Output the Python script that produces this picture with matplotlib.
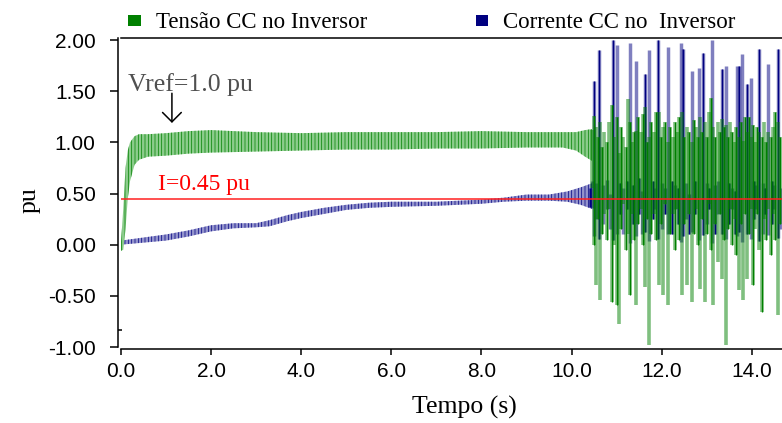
import numpy as np
import matplotlib
matplotlib.use('Agg')
import matplotlib.pyplot as plt
from matplotlib.patches import Patch

plt.rcParams['font.family'] = 'Liberation Serif'
plt.rcParams['hatch.linewidth'] = 0.5

# --- steady part: envelope of the fast oscillation ---
green_t = [0.0, 0.05, 0.1, 0.15, 0.2, 0.3, 0.4, 0.6, 1.0, 1.5, 2.0, 3.0, 4.0,
           5.0, 6.0, 7.0, 8.0, 9.0, 9.8, 10.1, 10.3, 10.45]
green_lo = [-0.06, -0.05, 0.15, 0.45, 0.62, 0.78, 0.83, 0.86, 0.87, 0.89, 0.90,
            0.91, 0.92, 0.93, 0.93, 0.94, 0.94, 0.95, 0.95, 0.92, 0.86, 0.82]
green_hi = [0.02, 0.35, 0.75, 0.92, 1.00, 1.06, 1.08, 1.08, 1.09, 1.11, 1.12,
            1.10, 1.09, 1.10, 1.10, 1.10, 1.11, 1.10, 1.10, 1.10, 1.12, 1.13]

blue_t = [0.0, 0.5, 1.0, 1.5, 2.0, 2.5, 3.0, 3.3, 3.7, 4.0, 4.5, 5.0, 5.5,
          6.0, 7.0, 8.0, 8.5, 9.0, 9.5, 9.9, 10.2, 10.45]
blue_lo = [0.00, 0.02, 0.04, 0.08, 0.13, 0.16, 0.17, 0.18, 0.23, 0.26, 0.30,
           0.34, 0.36, 0.37, 0.38, 0.40, 0.42, 0.43, 0.43, 0.42, 0.39, 0.35]
blue_hi = [0.04, 0.07, 0.10, 0.14, 0.19, 0.21, 0.21, 0.24, 0.29, 0.32, 0.36,
           0.39, 0.41, 0.42, 0.42, 0.44, 0.46, 0.49, 0.49, 0.52, 0.56, 0.60]

# --- unstable part after ~10.5 s: individual swings (time, min, max) ---
green_sw_t = [10.45, 10.50, 10.54, 10.59, 10.63, 10.68, 10.73, 10.78, 10.83, 10.89,
              10.95, 11.01, 11.05, 11.10, 11.15, 11.20, 11.25, 11.29, 11.34, 11.38,
              11.43, 11.48, 11.53, 11.58, 11.63, 11.67, 11.72, 11.77, 11.82, 11.87,
              11.94, 11.98, 12.03, 12.08, 12.14, 12.19, 12.24, 12.29, 12.34, 12.39,
              12.45, 12.50, 12.56, 12.61, 12.67, 12.72, 12.77, 12.81, 12.85, 12.90,
              12.96, 13.01, 13.05, 13.09, 13.14, 13.19, 13.24, 13.29, 13.34, 13.38,
              13.42, 13.47, 13.52, 13.57, 13.62, 13.66, 13.71, 13.75, 13.80, 13.85,
              13.89, 13.94, 13.98, 14.02, 14.07, 14.12, 14.17, 14.22, 14.27, 14.32,
              14.37, 14.42, 14.47, 14.52, 14.58, 14.63]
green_sw_lo = [0.55, 0.00, -0.39, 0.25, -0.54, 0.10, 0.30, 0.05, 0.35, -0.56,
               0.00, -0.59, -0.78, 0.15, 0.40, -0.05, 0.10, -0.49, 0.30, 0.05,
               -0.59, 0.20, 0.35, 0.00, -0.41, 0.25, -0.98, 0.10, 0.30, 0.05,
               -0.39, 0.20, -0.49, 0.40, -0.59, 0.10, 0.30, -0.05, 0.35, 0.05,
               -0.49, 0.20, -0.39, 0.30, -0.56, 0.10, 0.35, 0.00, -0.43, 0.25,
               -0.56, 0.10, 0.40, -0.05, -0.59, 0.20, -0.17, 0.30, -0.34, 0.05,
               -0.98, 0.15, 0.35, 0.00, 0.25, -0.10, -0.44, 0.20, -0.54, 0.30,
               -0.34, 0.10, 0.35, -0.39, 0.15, 0.30, -0.05, -0.66, 0.25, 0.05,
               0.35, -0.10, 0.30, 0.05, -0.69, 0.20]
green_sw_hi = [1.12, 1.26, 1.15, 1.05, 1.20, 0.95, 1.10, 1.00, 1.20, 1.37,
               1.05, 1.25, 0.90, 1.15, 1.05, 0.95, 1.42, 1.20, 1.00, 1.10,
               1.11, 1.25, 1.10, 1.28, 1.35, 1.00, 1.05, 1.20, 1.10, 1.30,
               1.30, 1.05, 1.15, 1.20, 1.00, 1.15, 1.05, 1.20, 1.10, 1.25,
               1.30, 1.05, 1.15, 1.10, 1.00, 1.22, 1.15, 1.05, 1.25, 1.10,
               1.20, 1.05, 1.30, 1.43, 1.15, 1.05, 1.20, 1.10, 1.23, 1.15,
               1.17, 1.05, 1.20, 1.10, 1.00, 1.15, 1.05, 1.20, 1.01, 1.25,
               1.10, 1.25, 1.05, 1.17, 1.00, 1.15, 1.10, 1.05, 1.20, 1.00,
               1.10, 1.05, 1.15, 1.30, 1.20, 1.05]

blue_sw_t = [10.40, 10.45, 10.49, 10.55, 10.61, 10.70, 10.78, 10.85, 10.92, 11.01,
             11.08, 11.15, 11.22, 11.29, 11.36, 11.43, 11.50, 11.56, 11.63, 11.72,
             11.80, 11.86, 11.91, 12.00, 12.07, 12.14, 12.22, 12.30, 12.36, 12.43,
             12.47, 12.55, 12.60, 12.67, 12.75, 12.82, 12.91, 13.00, 13.05, 13.11,
             13.18, 13.25, 13.33, 13.42, 13.50, 13.57, 13.62, 13.67, 13.71, 13.78,
             13.89, 13.98, 14.05, 14.10, 14.16, 14.24, 14.30, 14.36, 14.44, 14.50,
             14.58, 14.64]
blue_sw_lo = [0.37, 0.36, 0.08, 0.25, 0.06, 0.20, 0.35, 0.15, 0.05, 0.10,
              0.30, 0.10, 0.35, 0.02, 0.20, 0.08, 0.30, 0.10, 0.12, 0.04,
              0.25, 0.35, 0.06, 0.15, 0.30, 0.10, 0.10, 0.35, 0.20, 0.03,
              0.08, 0.25, 0.10, 0.12, 0.30, 0.05, 0.09, 0.20, 0.35, 0.02,
              0.10, 0.30, 0.10, 0.06, 0.20, 0.35, 0.10, 0.08, 0.12, 0.03,
              0.10, 0.06, 0.25, 0.35, 0.04, 0.10, 0.30, 0.09, 0.20, 0.35,
              0.07, 0.15]
blue_sw_hi = [0.55, 0.62, 1.60, 0.60, 1.90, 0.58, 0.63, 0.50, 2.00, 1.95,
              0.60, 0.55, 0.62, 1.97, 0.58, 1.80, 0.65, 0.52, 1.67, 1.90,
              0.62, 0.55, 2.00, 0.60, 0.55, 1.93, 0.62, 0.58, 0.55, 1.97,
              1.91, 0.60, 0.50, 1.70, 0.62, 1.73, 1.87, 0.60, 0.55, 2.00,
              0.58, 0.62, 1.72, 1.75, 0.60, 0.55, 0.52, 1.75, 1.75, 1.86,
              1.57, 1.63, 0.62, 0.58, 1.91, 0.60, 0.55, 1.77, 0.62, 0.58,
              1.91, 0.55]

i_ref = 0.45
y_ticks = [-1.0, -0.5, 0.0, 0.5, 1.0, 1.5, 2.0]
x_ticks = [0, 2, 4, 6, 8, 10, 12, 14]

dark_green = '#008000'
light_green = '#8ccc8c'
navy = '#000080'
light_blue = '#9494cc'

fig = plt.figure(figsize=(7.82, 4.23), dpi=100)
ax = fig.add_axes([121 / 782, 76 / 423, 661 / 782, 309 / 423])

# corrente (blue) first, tensão (green) on top
ax.fill_between(blue_t, blue_lo, blue_hi, facecolor=light_blue, edgecolor=navy,
                hatch='|' * 5, linewidth=0)
ax.vlines(blue_sw_t, blue_sw_lo, blue_sw_hi, colors=navy, alpha=0.5, lw=2.5)
ax.vlines(blue_sw_t[::2], blue_sw_lo[::2], blue_sw_hi[::2], colors=navy, lw=0.9)

ax.fill_between(green_t, green_lo, green_hi, facecolor=light_green, edgecolor=dark_green,
                hatch='|' * 5, linewidth=0)
ax.vlines(green_sw_t, green_sw_lo, green_sw_hi, colors=dark_green, alpha=0.5, lw=2.6)
ax.vlines(green_sw_t[1::2], green_sw_lo[1::2], green_sw_hi[1::2], colors=dark_green, lw=0.9)

ax.axhline(i_ref, color='#ff2020', lw=1.1)

ax.text(0.82, 0.53, 'I=0.45 pu', color='#ff0000', fontsize=17, va='baseline')
ax.text(0.15, 1.50, 'Vref=1.0 pu', color='#505050', fontsize=18.5, va='baseline')
ax.annotate('', xy=(1.13, 1.19), xytext=(1.13, 1.48),
            arrowprops=dict(arrowstyle='->,head_length=0.45,head_width=0.45',
                            color='black', lw=1.1, mutation_scale=15,
                            shrinkA=0, shrinkB=0))

ax.set_xlim(0, 14.67)
ax.set_ylim(-1.0, 2.02)
ax.set_yticks(y_ticks)
ax.set_yticklabels([f'{v:.2f}' for v in y_ticks])
ax.set_xticks(x_ticks)
ax.set_xticklabels([f'{v:.1f}' for v in x_ticks])
ax.set_yticks([-0.83], minor=True)
ax.tick_params(axis='y', which='major', direction='out', length=5.5, width=1.1, pad=10.5)
ax.tick_params(axis='y', which='minor', direction='in', length=3, width=1.1)
ax.tick_params(axis='x', direction='out', length=4, width=1.1, pad=5)
ax.tick_params(labelsize=15, labelfontfamily='Liberation Sans')

ax.spines['right'].set_visible(False)
ax.spines['left'].set_position(('outward', 2.2))
ax.spines['bottom'].set_position(('outward', 1.5))
for s in ['left', 'bottom', 'top']:
    ax.spines[s].set_linewidth(1.1)

ax.set_xlabel('Tempo (s)', fontsize=18.5, va='center')
ax.xaxis.set_label_coords(0.519, -0.197)
ax.set_ylabel('pu', fontsize=18.5, va='center')
ax.yaxis.set_label_coords(-0.138, 0.476)

handles = [Patch(facecolor=dark_green, edgecolor='none'),
           Patch(facecolor=navy, edgecolor='none')]
labels = ['Tensão CC no Inversor', 'Corrente CC no  Inversor']
fig.legend(handles, labels, loc='center left', bbox_to_anchor=(128 / 782, 1 - 23 / 423),
           ncol=2, frameon=False, fontsize=16.5, handlelength=0.55, handleheight=0.4,
           handletextpad=0.65, columnspacing=4.75, borderpad=0, borderaxespad=0)

fig.savefig('out.png', dpi=100)
